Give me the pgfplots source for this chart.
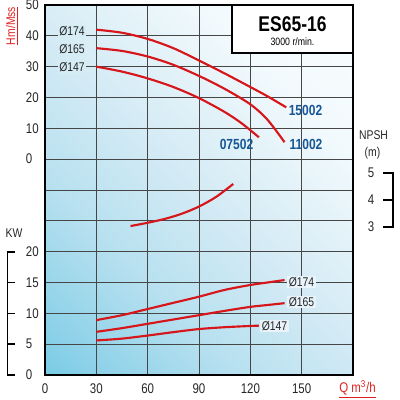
\documentclass[border=0pt]{standalone}
\usepackage{pgfplots}
\usepackage{pgfplotstable}
\pgfplotsset{compat=1.18}
\usepackage{fontspec}
\setmainfont{Liberation Sans}[FakeStretch=0.82]
\usetikzlibrary{shadings}
\definecolor{curvered}{RGB}{214,22,26}
\definecolor{labred}{RGB}{224,32,32}
\definecolor{numblue}{RGB}{24,86,150}
\definecolor{gridc}{RGB}{70,70,70}
\definecolor{bgtl}{RGB}{214,236,245}
\definecolor{bgbr}{RGB}{232,244,249}
\pgfdeclarehorizontalshading{chartbg}{100bp}{rgb(0bp)=(0.27,0.74,0.87); rgb(20bp)=(0.55,0.82,0.91); rgb(35bp)=(0.72,0.88,0.94); rgb(50bp)=(0.83,0.92,0.96); rgb(70bp)=(0.95,0.98,0.99); rgb(100bp)=(1,1,1)}

\pgfplotstableread{
Q H
30 42
45 41
60 39
75 36
90 32
105 27.8
120 23.4
130 20.4
141 16.8
}\hAa
\pgfplotstableread{
Q H
30 36
45 35.1
60 33.3
75 30.6
90 27
105 22.8
120 17.8
130 12.8
140 5.5
}\hBb
\pgfplotstableread{
Q H
30 30
45 28.4
60 26.2
75 23.4
90 19.8
105 15.3
115 11.6
125 7.1
}\hCc
\pgfplotstableread{
Q N
50 3.07
60 3.19
70 3.33
80 3.52
90 3.78
100 4.13
110 4.6
}\npsh
\pgfplotstableread{
Q P
30 8.9
45 9.7
60 10.7
75 11.7
90 12.7
105 13.8
120 14.6
130 15.0
140 15.4
}\pAa
\pgfplotstableread{
Q P
30 7.0
45 7.6
60 8.3
75 9.0
90 9.7
105 10.4
120 11.05
130 11.35
140 11.65
}\pBb
\pgfplotstableread{
Q P
30 5.6
45 5.9
60 6.4
75 6.95
90 7.45
105 7.75
120 7.95
125 8.0
}\pCc

\begin{document}
\begin{tikzpicture}
\useasboundingbox (-33.75pt,-18.75pt) rectangle (266.25pt,281.25pt);
\begin{axis}[
  at={(0,0)}, anchor=south west,
  scale only axis, width=231pt, height=277.5pt,
  xmin=0, xmax=180, ymin=0, ymax=12,
  xtick={0,30,60,90,120,150}, xticklabels={0,30,60,90,120,150},
  ytick={0,1,2,3,4,5,6,7,8,9,10,11,12},
  yticklabels={0,5,10,15,20,{},{},0,10,20,30,40,50},
  major tick length=0pt,
  grid=major, major grid style={gridc, line width=0.7pt},
  axis line style={black, line width=1.1pt},
  axis background/.style={shading=chartbg, shading angle=45},
  xticklabel style={anchor=base, inner sep=0pt, yshift=-13.5pt, font=\fontsize{10.5}{12}\selectfont, text=black!85},
  yticklabel style={anchor=west, inner sep=0pt, xshift=-14.5pt, font=\fontsize{10.5}{12}\selectfont, text=black!85},
  clip=false,
]
\addplot[curvered, line width=1.6pt, smooth] table[x=Q, y expr=7+\thisrow{H}/10] {\hAa};
\addplot[curvered, line width=1.6pt, smooth] table[x=Q, y expr=7+\thisrow{H}/10] {\hBb};
\addplot[curvered, line width=1.6pt, smooth] table[x=Q, y expr=7+\thisrow{H}/10] {\hCc};
\addplot[curvered, line width=1.6pt, smooth] table[x=Q, y expr=4.768+(\thisrow{N}-3)*0.892] {\npsh};
\addplot[curvered, line width=1.6pt, smooth] table[x=Q, y expr=\thisrow{P}/5] {\pAa};
\addplot[curvered, line width=1.6pt, smooth] table[x=Q, y expr=\thisrow{P}/5] {\pBb};
\addplot[curvered, line width=1.6pt, smooth] table[x=Q, y expr=\thisrow{P}/5] {\pCc};
\end{axis}
\begin{scope}[shift={(-33.75pt,281.25pt)}, x=0.75pt, y=-0.75pt]
  % title box
  \draw[line width=1.1pt, fill=white] (232,5) rectangle (353,53);
  \node[font=\fontsize{16}{18}\selectfont\bfseries] at (292.5,24) {ES65-16};
  \node[font=\fontsize{8}{9}\selectfont] at (292.5,42) {3000 r/min.};
  % model numbers
  \node[numblue, font=\fontsize{11}{12}\selectfont\bfseries] at (305.5,110) {15002};
  \node[numblue, font=\fontsize{11}{12}\selectfont\bfseries] at (306,144) {11002};
  \node[numblue, font=\fontsize{11}{12}\selectfont\bfseries] at (236.5,144.5) {07502};
  % impeller labels
  \begin{scope}[every node/.style={font=\fontsize{9.5}{11}\selectfont, text=black!85, inner sep=1pt}]
    \node[fill=bgtl] at (72,31) {Ø174};
    \node[fill=bgtl] at (72,49) {Ø165};
    \node[fill=bgtl] at (72,67.5) {Ø147};
    \node[fill=bgbr] at (301.5,282) {Ø174};
    \node[fill=bgbr] at (301.5,302) {Ø165};
    \node[fill=bgbr] at (274.5,326) {Ø147};
  \end{scope}
  % axis titles
  \node[rotate=90, text=labred, font=\fontsize{9.5}{11}\selectfont] at (12,26) {\underline{Hm/Mss}};
  \node[text=labred, font=\fontsize{10.5}{12}\selectfont] at (357.5,389) {\underline{Q m\textsuperscript{3}/h}};
  \node[font=\fontsize{9.5}{11}\selectfont, text=black!85] at (14,233) {KW};
  % KW bracket
  \draw[line width=1.1pt] (15,252) -- (7.5,252) -- (7.5,375) -- (15,375);
  \draw[line width=1.1pt] (7.5,282.5) -- (15,282.5);
  \draw[line width=1.1pt] (7.5,313.3) -- (15,313.3);
  \draw[line width=1.1pt] (7.5,344.2) -- (15,344.2);
  % NPSH scale
  \node[font=\fontsize{9.5}{11}\selectfont, text=black!85] at (373.5,135) {NPSH};
  \node[font=\fontsize{9.5}{11}\selectfont, text=black!85] at (372.5,153) {(m)};
  \node[font=\fontsize{10.5}{12}\selectfont, text=black!85] at (371,173) {5};
  \node[font=\fontsize{10.5}{12}\selectfont, text=black!85] at (371,200) {4};
  \node[font=\fontsize{10.5}{12}\selectfont, text=black!85] at (371,227) {3};
  \draw[line width=1.1pt] (383,173) -- (393,173) -- (393,227) -- (383,227);
  \draw[line width=1.1pt] (383,200) -- (393,200);
\end{scope}
\end{tikzpicture}
\end{document}
